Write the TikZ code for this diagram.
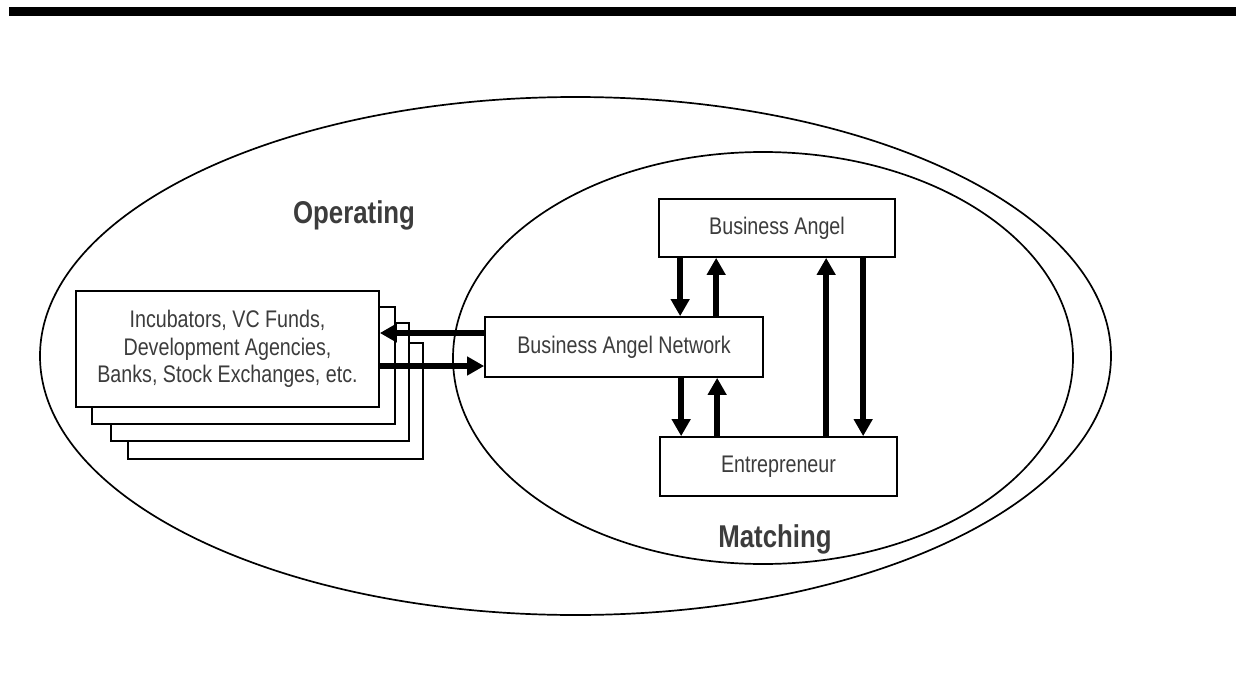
\documentclass[tikz,border=0pt]{standalone}
\usepackage{fontspec}
\setmainfont{Liberation Sans}[FakeStretch=0.82]
\usetikzlibrary{arrows.meta}
\definecolor{txtgray}{HTML}{3C3C3C}
\tikzset{
  frame/.style={draw=black, line width=1.7pt},
  boxnode/.style={frame, fill=white, inner sep=0pt, text=txtgray,
    font=\fontsize{24}{27.5}\selectfont, align=center},
  stackbox/.style={boxnode},
  flow/.style={line width=5.5pt, -{Triangle[length=17pt,width=18pt]}},
  areatitle/.style={text=txtgray, font=\fontsize{31.5}{34}\bfseries\selectfont,
    inner sep=0pt, anchor=base}
}
\begin{document}
\begin{tikzpicture}[x=1pt, y=-1pt]
\useasboundingbox (0,0) rectangle (1236,690);

% heading rule
\fill[black] (9,7) rectangle (1236,16);

% operating and matching areas
\draw[frame] (575.5,356) ellipse [x radius=535.5, y radius=259];
\draw[frame] (763,358) ellipse [x radius=310, y radius=206];

% stacked partner boxes, back to front
\node[stackbox, minimum width=295pt, minimum height=116pt] (s4) at (275.5,401) {};
\node[stackbox, minimum width=298pt, minimum height=118pt] (s3) at (260,382) {};
\node[stackbox, minimum width=303pt, minimum height=117pt] (s2) at (243.5,365.5) {};
\node[stackbox, minimum width=303pt, minimum height=116pt] (s1) at (227.5,349)
  {Incubators, VC Funds,\\Development Agencies,\\Banks, Stock Exchanges, etc.};

% actors
\node[boxnode, minimum width=278pt, minimum height=60pt] (ban) at (624,347) {Business Angel Network};
\node[boxnode, minimum width=236pt, minimum height=58pt] (ba) at (777,228) {Business Angel};
\node[boxnode, minimum width=237pt, minimum height=59pt] (ent) at (778.5,466.5) {Entrepreneur};

% flows between network and partners
\draw[flow] ([yshift=14pt]ban.west) -- ([yshift=14pt]ban.west -| s1.east);
\draw[flow] ([yshift=-19pt]ban.west -| s1.east) -- ([yshift=-19pt]ban.west);

% flows between angel and network
\draw[flow] ([xshift=22pt]ba.south west) -- ([xshift=22pt]ba.south west |- ban.north);
\draw[flow] ([xshift=58pt]ba.south west |- ban.north) -- ([xshift=58pt]ba.south west);

% flows between network and entrepreneur
\draw[flow] ([xshift=22pt]ent.north west |- ban.south) -- ([xshift=22pt]ent.north west);
\draw[flow] ([xshift=58pt]ent.north west) -- ([xshift=58pt]ent.north west |- ban.south);

% direct flows between entrepreneur and angel
\draw[flow] ([xshift=167pt]ent.north west) -- ([xshift=167pt]ent.north west |- ba.south);
\draw[flow] ([xshift=204pt]ent.north west |- ba.south) -- ([xshift=204pt]ent.north west);

% area titles
\node[areatitle] (operating) at (354,223) {Operating};
\node[areatitle] (matching) at (775,547) {Matching};
\end{tikzpicture}
\end{document}
